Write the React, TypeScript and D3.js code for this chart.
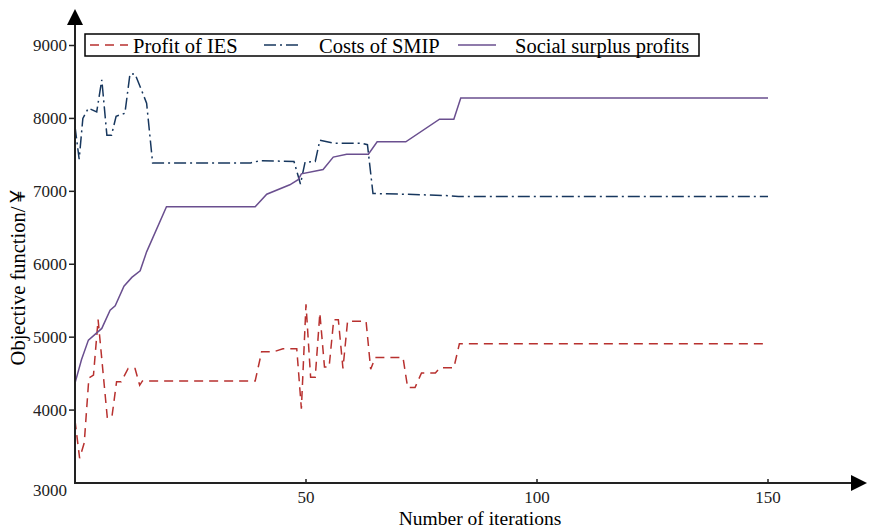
import React from 'react'
import * as d3 from 'd3'

// iteration / value pairs
const iesIter = [0, 1, 2, 3, 4, 5, 7, 8, 9, 10, 11.5, 13, 14, 14.6, 39, 40.4, 43, 45, 48, 49, 50, 51, 52, 53, 54, 55, 56, 57, 58, 59, 63, 64, 65, 71, 72, 73.6, 75, 78, 79, 82, 83.2, 150]
const iesValue = [3860, 3340, 3550, 4440, 4480, 5240, 3890, 3910, 4390, 4390, 4570, 4570, 4340, 4400, 4400, 4800, 4800, 4840, 4840, 4020, 5450, 4450, 4450, 5330, 4590, 4590, 5240, 5240, 4570, 5220, 5220, 4560, 4720, 4720, 4310, 4310, 4510, 4510, 4580, 4580, 4910, 4910]

const smipIter = [0, 0.9, 1.7, 2.9, 4.7, 5.8, 6.9, 7.9, 8.9, 10.8, 11.9, 13, 15.5, 16.8, 38, 40, 47.4, 48.8, 49.8, 52, 53, 56, 62, 63.3, 64.5, 72, 81, 83, 150]
const smipValue = [7890, 7440, 8000, 8140, 8090, 8530, 7770, 7770, 8030, 8070, 8610, 8610, 8210, 7390, 7390, 7420, 7410, 7100, 7400, 7410, 7700, 7660, 7660, 7640, 6970, 6960, 6940, 6930, 6930]

const socialIter = [0, 1.4, 2.9, 5.8, 7.6, 8.7, 10.6, 12.3, 14.1, 15.5, 19.8, 39, 41.5, 46.5, 48.3, 49, 53.7, 55.9, 58.8, 63.5, 65.4, 71.6, 78.9, 82, 83.5, 150]
const socialValue = [4370, 4690, 4960, 5120, 5370, 5430, 5700, 5820, 5910, 6170, 6790, 6790, 6960, 7090, 7160, 7240, 7300, 7470, 7510, 7510, 7680, 7680, 7990, 7990, 8280, 8280]

const xTicks = [50, 100, 150]
const yTicks = [3000, 4000, 5000, 6000, 7000, 8000, 9000]

const seriesNames = ['Profit of IES', 'Costs of SMIP', 'Social surplus profits']
const colors = ['#b8312f', '#17375e', '#6a4f8f']
const dashes = ['9,6', '12,4,2,4', null]

const font = '"Liberation Serif", "Times New Roman", serif'

export default function App() {
    const x = d3.scaleLinear().domain([0, 150]).range([75, 768])
    const y = d3.scaleLinear().domain([3000, 9000]).range([483, 45.5])

    const line = d3.line<[number, number]>()
        .x(d => x(d[0]))
        .y(d => y(d[1]))

    const series = [
        d3.zip(iesIter, iesValue),
        d3.zip(smipIter, smipValue),
        d3.zip(socialIter, socialValue),
    ] as [number, number][][]

    const x0 = x(0)
    const yBase = y(3000)

    // legend layout (sample start, text start)
    const legendItems = [
        { s: 90, t: 133 },
        { s: 264, t: 319 },
        { s: 458, t: 515 },
    ]

    return (
        <svg width={870} height={530} style={{ position: 'absolute', left: 0, top: 0, background: '#fff' }}
            fontFamily={font}>
            {/* lines */}
            {series.map((s, i) => (
                <path key={i} d={line(s) || ''} fill="none" stroke={colors[i]}
                    strokeWidth={1.5} strokeDasharray={dashes[i] || undefined} />
            ))}

            {/* y axis */}
            <line x1={x0} x2={x0} y1={yBase + 1} y2={22} stroke="#222" strokeWidth={2} />
            <path d={`M${x0 - 8},25L${x0 + 8},25L${x0},9Z`} fill="#000" />
            {yTicks.map(t => (
                <g key={t}>
                    {t !== 3000 && <line x1={x0 - 6} x2={x0} y1={y(t)} y2={y(t)} stroke="#222" strokeWidth={1.5} />}
                    <text x={67} y={t === 3000 ? y(t) + 7 : y(t)} textAnchor="end" dominantBaseline="central"
                        fontSize={17} fill="#222">{t}</text>
                </g>
            ))}

            {/* x axis */}
            <line x1={x0 - 1} x2={854} y1={yBase} y2={yBase} stroke="#222" strokeWidth={2} />
            <path d={`M851,${yBase - 8}L851,${yBase + 8}L867,${yBase}Z`} fill="#000" />
            {xTicks.map(t => (
                <g key={t}>
                    <line x1={x(t)} x2={x(t)} y1={yBase} y2={yBase - 4} stroke="#222" strokeWidth={1.5} />
                    <text x={x(t)} y={497} textAnchor="middle" dominantBaseline="central"
                        fontSize={17} fill="#222">{t}</text>
                </g>
            ))}

            {/* axis titles */}
            <text x={480} y={525} textAnchor="middle" fontSize={19.5} fill="#000">Number of iterations</text>
            <text transform="translate(25,276) rotate(-90)" textAnchor="middle" fontSize={20.5} fill="#000">
                Objective function/<tspan fontFamily='"Noto Sans CJK SC", sans-serif' fontSize={20}>￥</tspan>
            </text>

            {/* legend */}
            <rect x={85} y={34} width={614} height={22} fill="#fff" stroke="#000" strokeWidth={1.5} />
            {legendItems.map((it, i) => (
                <g key={i}>
                    <line x1={it.s} x2={it.s + 38} y1={45} y2={45} stroke={colors[i]} strokeWidth={1.5}
                        strokeDasharray={dashes[i] || undefined} />
                    <text x={it.t} y={52.5} fontSize={20.5} fill="#000">{seriesNames[i]}</text>
                </g>
            ))}
        </svg>
    )
}
